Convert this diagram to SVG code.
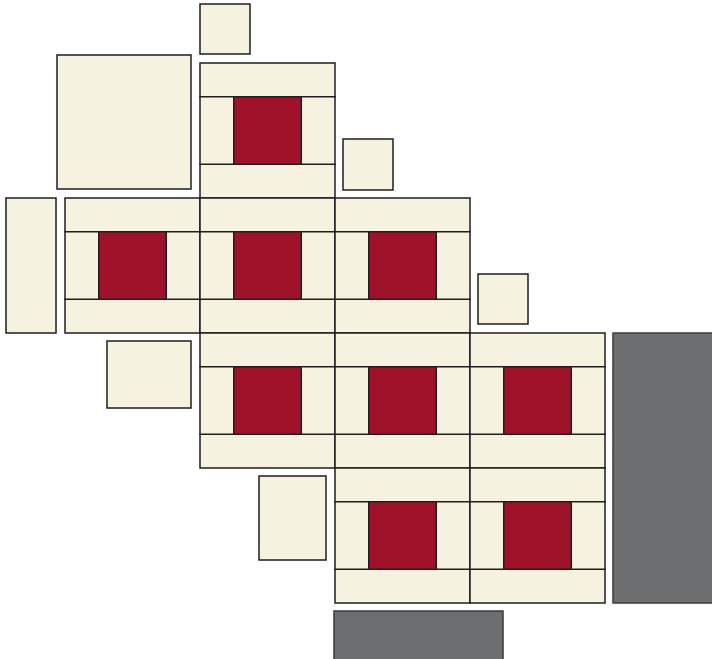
<svg xmlns="http://www.w3.org/2000/svg" xmlns:xlink="http://www.w3.org/1999/xlink" width="712" height="659" viewBox="0 0 712 659">
  <style>
    .cream { fill: #F5F2DF; stroke: #1e1e1e; stroke-width: 1.5; }
    .red { fill: #A0122A; stroke: #1e1e1e; stroke-width: 1.5; }
    .gray { fill: #6D6E70; stroke: #3a3a3a; stroke-width: 1.5; }
  </style>
  <defs>
    <g id="block">
      <rect class="cream" x="0" y="0" width="135" height="33.75"/>
      <rect class="cream" x="0" y="101.25" width="135" height="33.75"/>
      <rect class="cream" x="0" y="33.75" width="33.75" height="67.5"/>
      <rect class="cream" x="101.25" y="33.75" width="33.75" height="67.5"/>
      <rect class="red" x="33.75" y="33.75" width="67.5" height="67.5"/>
    </g>
  </defs>
  <rect width="712" height="659" fill="#ffffff"/>

  <g id="block-r0c1"><use xlink:href="#block" href="#block" x="200" y="63"/></g>
  <g id="block-r1c0"><use xlink:href="#block" href="#block" x="65" y="198"/></g>
  <g id="block-r1c1"><use xlink:href="#block" href="#block" x="200" y="198"/></g>
  <g id="block-r1c2"><use xlink:href="#block" href="#block" x="335" y="198"/></g>
  <g id="block-r2c1"><use xlink:href="#block" href="#block" x="200" y="333"/></g>
  <g id="block-r2c2"><use xlink:href="#block" href="#block" x="335" y="333"/></g>
  <g id="block-r2c3"><use xlink:href="#block" href="#block" x="470" y="333"/></g>
  <g id="block-r3c2"><use xlink:href="#block" href="#block" x="335" y="468"/></g>
  <g id="block-r3c3"><use xlink:href="#block" href="#block" x="470" y="468"/></g>

  <g id="piece-small-top"><rect class="cream" x="200" y="4" width="50" height="50"/></g>
  <g id="piece-large-square"><rect class="cream" x="57" y="55" width="134" height="134"/></g>
  <g id="piece-left-tall"><rect class="cream" x="6" y="198" width="50" height="135"/></g>
  <g id="piece-small-mid"><rect class="cream" x="343" y="139" width="50" height="51"/></g>
  <g id="piece-small-right"><rect class="cream" x="478" y="274" width="50" height="50"/></g>
  <g id="piece-wide-left"><rect class="cream" x="107" y="341" width="84" height="67"/></g>
  <g id="piece-tall-mid"><rect class="cream" x="259" y="476" width="67" height="84"/></g>
  <g id="piece-gray-right"><rect class="gray" x="613" y="333" width="101" height="270"/></g>
  <g id="piece-gray-bottom"><rect class="gray" x="334" y="611" width="169" height="52"/></g>

  <g id="connectors"/>
</svg>
